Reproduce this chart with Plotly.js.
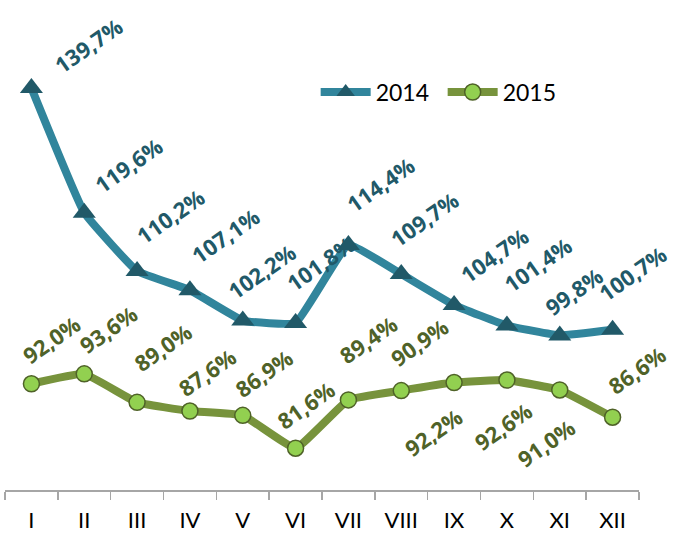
<!DOCTYPE html>
<html>
<head>
<meta charset="utf-8">
<script src="https://cdn.plot.ly/plotly-3.0.1.min.js"></script>
<style>html,body{margin:0;padding:0;background:#fff;}#chart{width:676px;height:536px;}</style>
</head>
<body>
<div id="chart"></div>
<script>
// ---- data ----
const months = ['I','II','III','IV','V','VI','VII','VIII','IX','X','XI','XII'];
const values2014 = [139.7, 119.6, 110.2, 107.1, 102.2, 101.8, 114.4, 109.7, 104.7, 101.4, 99.8, 100.7];
const values2015 = [92.0, 93.6, 89.0, 87.6, 86.9, 81.6, 89.4, 90.9, 92.2, 92.6, 91.0, 86.6];
const seriesNames = ['2014', '2015'];

// ---- label placement (pixel offsets from each point) ----
const off14x = [57, 44, 33, 36, 19, 25, 32, 23, 40, 31, 14, 20];
const off14y = [-43, -48, -55, -55, -50, -60, -61, -55, -50, -62, -44, -57];
const off15x = [20, 24, 26, 17, 21, 10, 20, 18, -21, -4, -14, 24];
const off15y = [-45, -45, -55, -39, -42, -43, -61, -49, 49, 46, 53, -47];

const c14line = '#31859C', c14mark = '#215968', c14text = '#215968';
const c15line = '#77933C', c15mark = '#92D050', c15edge = '#4F6228', c15text = '#4F6228';
const FONT = 'Lato, "Open Sans", sans-serif';
const LBLFONT = '"Open Sans", sans-serif';

const fmt = v => v.toFixed(1).replace('.', ',') + '%';

const traces = [
  {
    x: months, y: values2014, name: seriesNames[0], type: 'scatter', mode: 'lines+markers',
    line: {color: c14line, width: 8, shape: 'spline', smoothing: 0.3},
    marker: {symbol: 'triangle-up', size: 20, color: c14mark, line: {width: 0}},
    cliponaxis: false
  },
  {
    x: months, y: values2015, name: seriesNames[1], type: 'scatter', mode: 'lines+markers',
    line: {color: c15line, width: 8, shape: 'spline', smoothing: 0.3},
    marker: {symbol: 'circle', size: 16, color: c15mark, line: {width: 1.5, color: c15edge}},
    cliponaxis: false
  }
];

const annotations = [];
months.forEach((m, i) => {
  annotations.push({
    x: m, y: values2014[i], xref: 'x', yref: 'y', text: fmt(values2014[i]),
    showarrow: false, textangle: -35, xshift: off14x[i], yshift: -off14y[i],
    font: {family: LBLFONT, size: 22, color: c14text, weight: 700}
  });
  annotations.push({
    x: m, y: values2015[i], xref: 'x', yref: 'y', text: fmt(values2015[i]),
    showarrow: false, textangle: -35, xshift: off15x[i], yshift: -off15y[i],
    font: {family: LBLFONT, size: 22, color: c15text, weight: 700}
  });
});

const layout = {
  width: 676, height: 536,
  margin: {l: 5, r: 37, t: 10, b: 46},
  paper_bgcolor: '#fff', plot_bgcolor: '#fff',
  showlegend: true,
  legend: {
    orientation: 'h', x: 0.49, y: 0.829, xanchor: 'left', yanchor: 'middle',
    font: {family: FONT, size: 23, color: '#000'}, bgcolor: 'rgba(0,0,0,0)',
    itemwidth: 50, tracegroupgap: 0, entrywidth: 62
  },
  xaxis: {
    type: 'category', range: [-0.5, 11.5], fixedrange: true,
    showline: true, linecolor: '#A6A6A6', linewidth: 1.5,
    ticks: 'outside', tickson: 'boundaries', ticklen: 8, tickcolor: '#A6A6A6', tickwidth: 1.5,
    ticklabelstandoff: 10,
    showgrid: false, zeroline: false,
    tickfont: {family: FONT, size: 22, color: '#000'}
  },
  yaxis: {
    range: [74.86, 152.3], visible: false, showgrid: false, zeroline: false, fixedrange: true
  },
  annotations: annotations
};

Plotly.newPlot('chart', traces, layout, {displayModeBar: false, staticPlot: true});
</script>
</body>
</html>
